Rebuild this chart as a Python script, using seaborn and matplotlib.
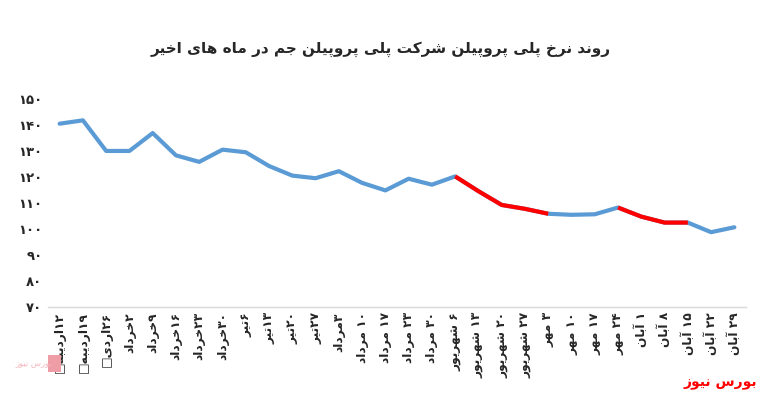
import numpy as np
import pandas as pd
import seaborn as sns
import matplotlib
matplotlib.use("Agg")
import matplotlib.pyplot as plt
from matplotlib.patches import Rectangle

# ========== DATA ==========
title = "روند نرخ پلی پروپیلن شرکت پلی پروپیلن جم در ماه های اخیر"
source = "بورس نیوز"

dates = ["۱۲اردیبه□", "۱۹اردیبه□", "۲۶اردی□", "۲خرداد", "۹خرداد", "۱۶خرداد",
         "۲۳خرداد", "۳۰خرداد", "۶تیر", "۱۳تیر", "۲۰تیر", "۲۷تیر", "۳مرداد",
         "۱۰ مرداد", "۱۷ مرداد", "۲۳ مرداد", "۳۰ مرداد", "۶ شهریور", "۱۳ شهریور",
         "۲۰ شهریور", "۲۷ شهریور", "۳ مهر", "۱۰ مهر", "۱۷ مهر", "۲۴ مهر",
         "۱ آبان", "۸ آبان", "۱۵ آبان", "۲۲ آبان", "۲۹ آبان"]

price = [140.5, 141.8, 130.0, 130.0, 136.9, 128.3, 125.8, 130.5, 129.5, 124.2,
         120.5, 119.5, 122.2, 117.7, 114.8, 119.3, 117.0, 120.2, 114.5, 109.2,
         107.7, 105.8, 105.4, 105.6, 108.2, 104.7, 102.4, 102.4, 98.7, 100.6]

# stretches drawn in red (start index, end index)
red_spans = [(17, 21), (24, 27)]

y_ticks = [70, 80, 90, 100, 110, 120, 130, 140, 150]

# ========== SIMPLE PERSIAN SHAPING ==========
# char: (isolated, final, initial, medial)
FORMS = {
    "ا": (0xFE8D, 0xFE8E, None, None), "آ": (0xFE81, 0xFE82, None, None),
    "ب": (0xFE8F, 0xFE90, 0xFE91, 0xFE92), "پ": (0xFB56, 0xFB57, 0xFB58, 0xFB59),
    "ت": (0xFE95, 0xFE96, 0xFE97, 0xFE98), "ث": (0xFE99, 0xFE9A, 0xFE9B, 0xFE9C),
    "ج": (0xFE9D, 0xFE9E, 0xFE9F, 0xFEA0), "چ": (0xFB7A, 0xFB7B, 0xFB7C, 0xFB7D),
    "ح": (0xFEA1, 0xFEA2, 0xFEA3, 0xFEA4), "خ": (0xFEA5, 0xFEA6, 0xFEA7, 0xFEA8),
    "د": (0xFEA9, 0xFEAA, None, None), "ذ": (0xFEAB, 0xFEAC, None, None),
    "ر": (0xFEAD, 0xFEAE, None, None), "ز": (0xFEAF, 0xFEB0, None, None),
    "ژ": (0xFB8A, 0xFB8B, None, None),
    "س": (0xFEB1, 0xFEB2, 0xFEB3, 0xFEB4), "ش": (0xFEB5, 0xFEB6, 0xFEB7, 0xFEB8),
    "ص": (0xFEB9, 0xFEBA, 0xFEBB, 0xFEBC), "ض": (0xFEBD, 0xFEBE, 0xFEBF, 0xFEC0),
    "ط": (0xFEC1, 0xFEC2, 0xFEC3, 0xFEC4), "ظ": (0xFEC5, 0xFEC6, 0xFEC7, 0xFEC8),
    "ع": (0xFEC9, 0xFECA, 0xFECB, 0xFECC), "غ": (0xFECD, 0xFECE, 0xFECF, 0xFED0),
    "ف": (0xFED1, 0xFED2, 0xFED3, 0xFED4), "ق": (0xFED5, 0xFED6, 0xFED7, 0xFED8),
    "ک": (0xFB8E, 0xFB8F, 0xFB90, 0xFB91), "گ": (0xFB92, 0xFB93, 0xFB94, 0xFB95),
    "ل": (0xFEDD, 0xFEDE, 0xFEDF, 0xFEE0), "م": (0xFEE1, 0xFEE2, 0xFEE3, 0xFEE4),
    "ن": (0xFEE5, 0xFEE6, 0xFEE7, 0xFEE8), "ه": (0xFEE9, 0xFEEA, 0xFEEB, 0xFEEC),
    "و": (0xFEED, 0xFEEE, None, None), "ی": (0xFBFC, 0xFBFD, 0xFBFE, 0xFBFF),
}
DIGITS = set("۰۱۲۳۴۵۶۷۸۹0123456789")


def fa(text):
    out = []
    for i, ch in enumerate(text):
        if ch not in FORMS:
            out.append(ch)
            continue
        prev = text[i - 1] if i > 0 else ""
        nxt = text[i + 1] if i + 1 < len(text) else ""
        join_prev = prev in FORMS and FORMS[prev][2] is not None
        join_next = FORMS[ch][2] is not None and nxt in FORMS
        iso, fin, ini, med = FORMS[ch]
        if join_prev and join_next:
            code = med
        elif join_prev:
            code = fin
        elif join_next:
            code = ini
        else:
            code = iso
        out.append(chr(code))
    # split into digit / non-digit runs, then lay out right to left
    runs = []
    for ch in out:
        is_d = ch in DIGITS
        if runs and runs[-1][0] == is_d:
            runs[-1][1].append(ch)
        else:
            runs.append([is_d, [ch]])
    visual = ""
    for is_d, chars in reversed(runs):
        visual += "".join(chars) if is_d else "".join(reversed(chars))
    return visual


def fa_num(v):
    return "".join("۰۱۲۳۴۵۶۷۸۹"[int(c)] for c in str(v))


# ========== PLOT ==========
sns.set_style("white")
plt.rcParams['font.family'] = ['DejaVu Sans']

df = pd.DataFrame({"pos": np.arange(len(price)), "price": price})

fig = plt.figure(figsize=(7.62, 3.97), dpi=100)

# faded logo, bottom left
fig.text(0.045, 0.085, fa(source), ha="center", va="center", fontsize=6,
         color="#F4B6BC")
fig.patches.append(Rectangle((0.063, 0.062), 0.017, 0.043, transform=fig.transFigure,
                             facecolor="#EE9CA5", edgecolor="none", zorder=0))

ax = fig.add_axes([0.063, 0.2275, 0.916, 0.523])
ax.patch.set_alpha(0)

sns.lineplot(data=df, x="pos", y="price", color="#5B9BD5", linewidth=3.0,
             solid_capstyle="round", ax=ax)
for a, b in red_spans:
    seg = df.iloc[a:b + 1]
    sns.lineplot(data=seg, x="pos", y="price", color="#FF0000", linewidth=3.0,
                 solid_capstyle="butt", ax=ax)

ax.set_xlim(-0.5, len(price) - 0.5)
ax.set_ylim(70, 150)
ax.set_yticks(y_ticks)
ax.set_yticklabels([fa_num(v) for v in y_ticks], fontsize=9.5, fontweight="bold")
ax.set_xticks(df["pos"])
ax.set_xticklabels([fa(d) for d in dates], rotation=90, fontsize=8.8,
                   fontweight="bold", va="top", ha="center")
ax.tick_params(axis="both", length=0, pad=4)
ax.set_xlabel("")
ax.set_ylabel("")

for side in ["top", "right", "left"]:
    ax.spines[side].set_visible(False)
ax.spines["bottom"].set_color("#D9D9D9")
ax.spines["bottom"].set_linewidth(1.0)

fig.text(0.5, 0.875, fa(title), ha="center", va="center", fontsize=11,
         fontweight="bold")
fig.text(0.994, 0.035, fa(source), ha="right", va="center", fontsize=10,
         fontweight="bold", color="#FF0000")

fig.savefig("out.png", dpi=100)
